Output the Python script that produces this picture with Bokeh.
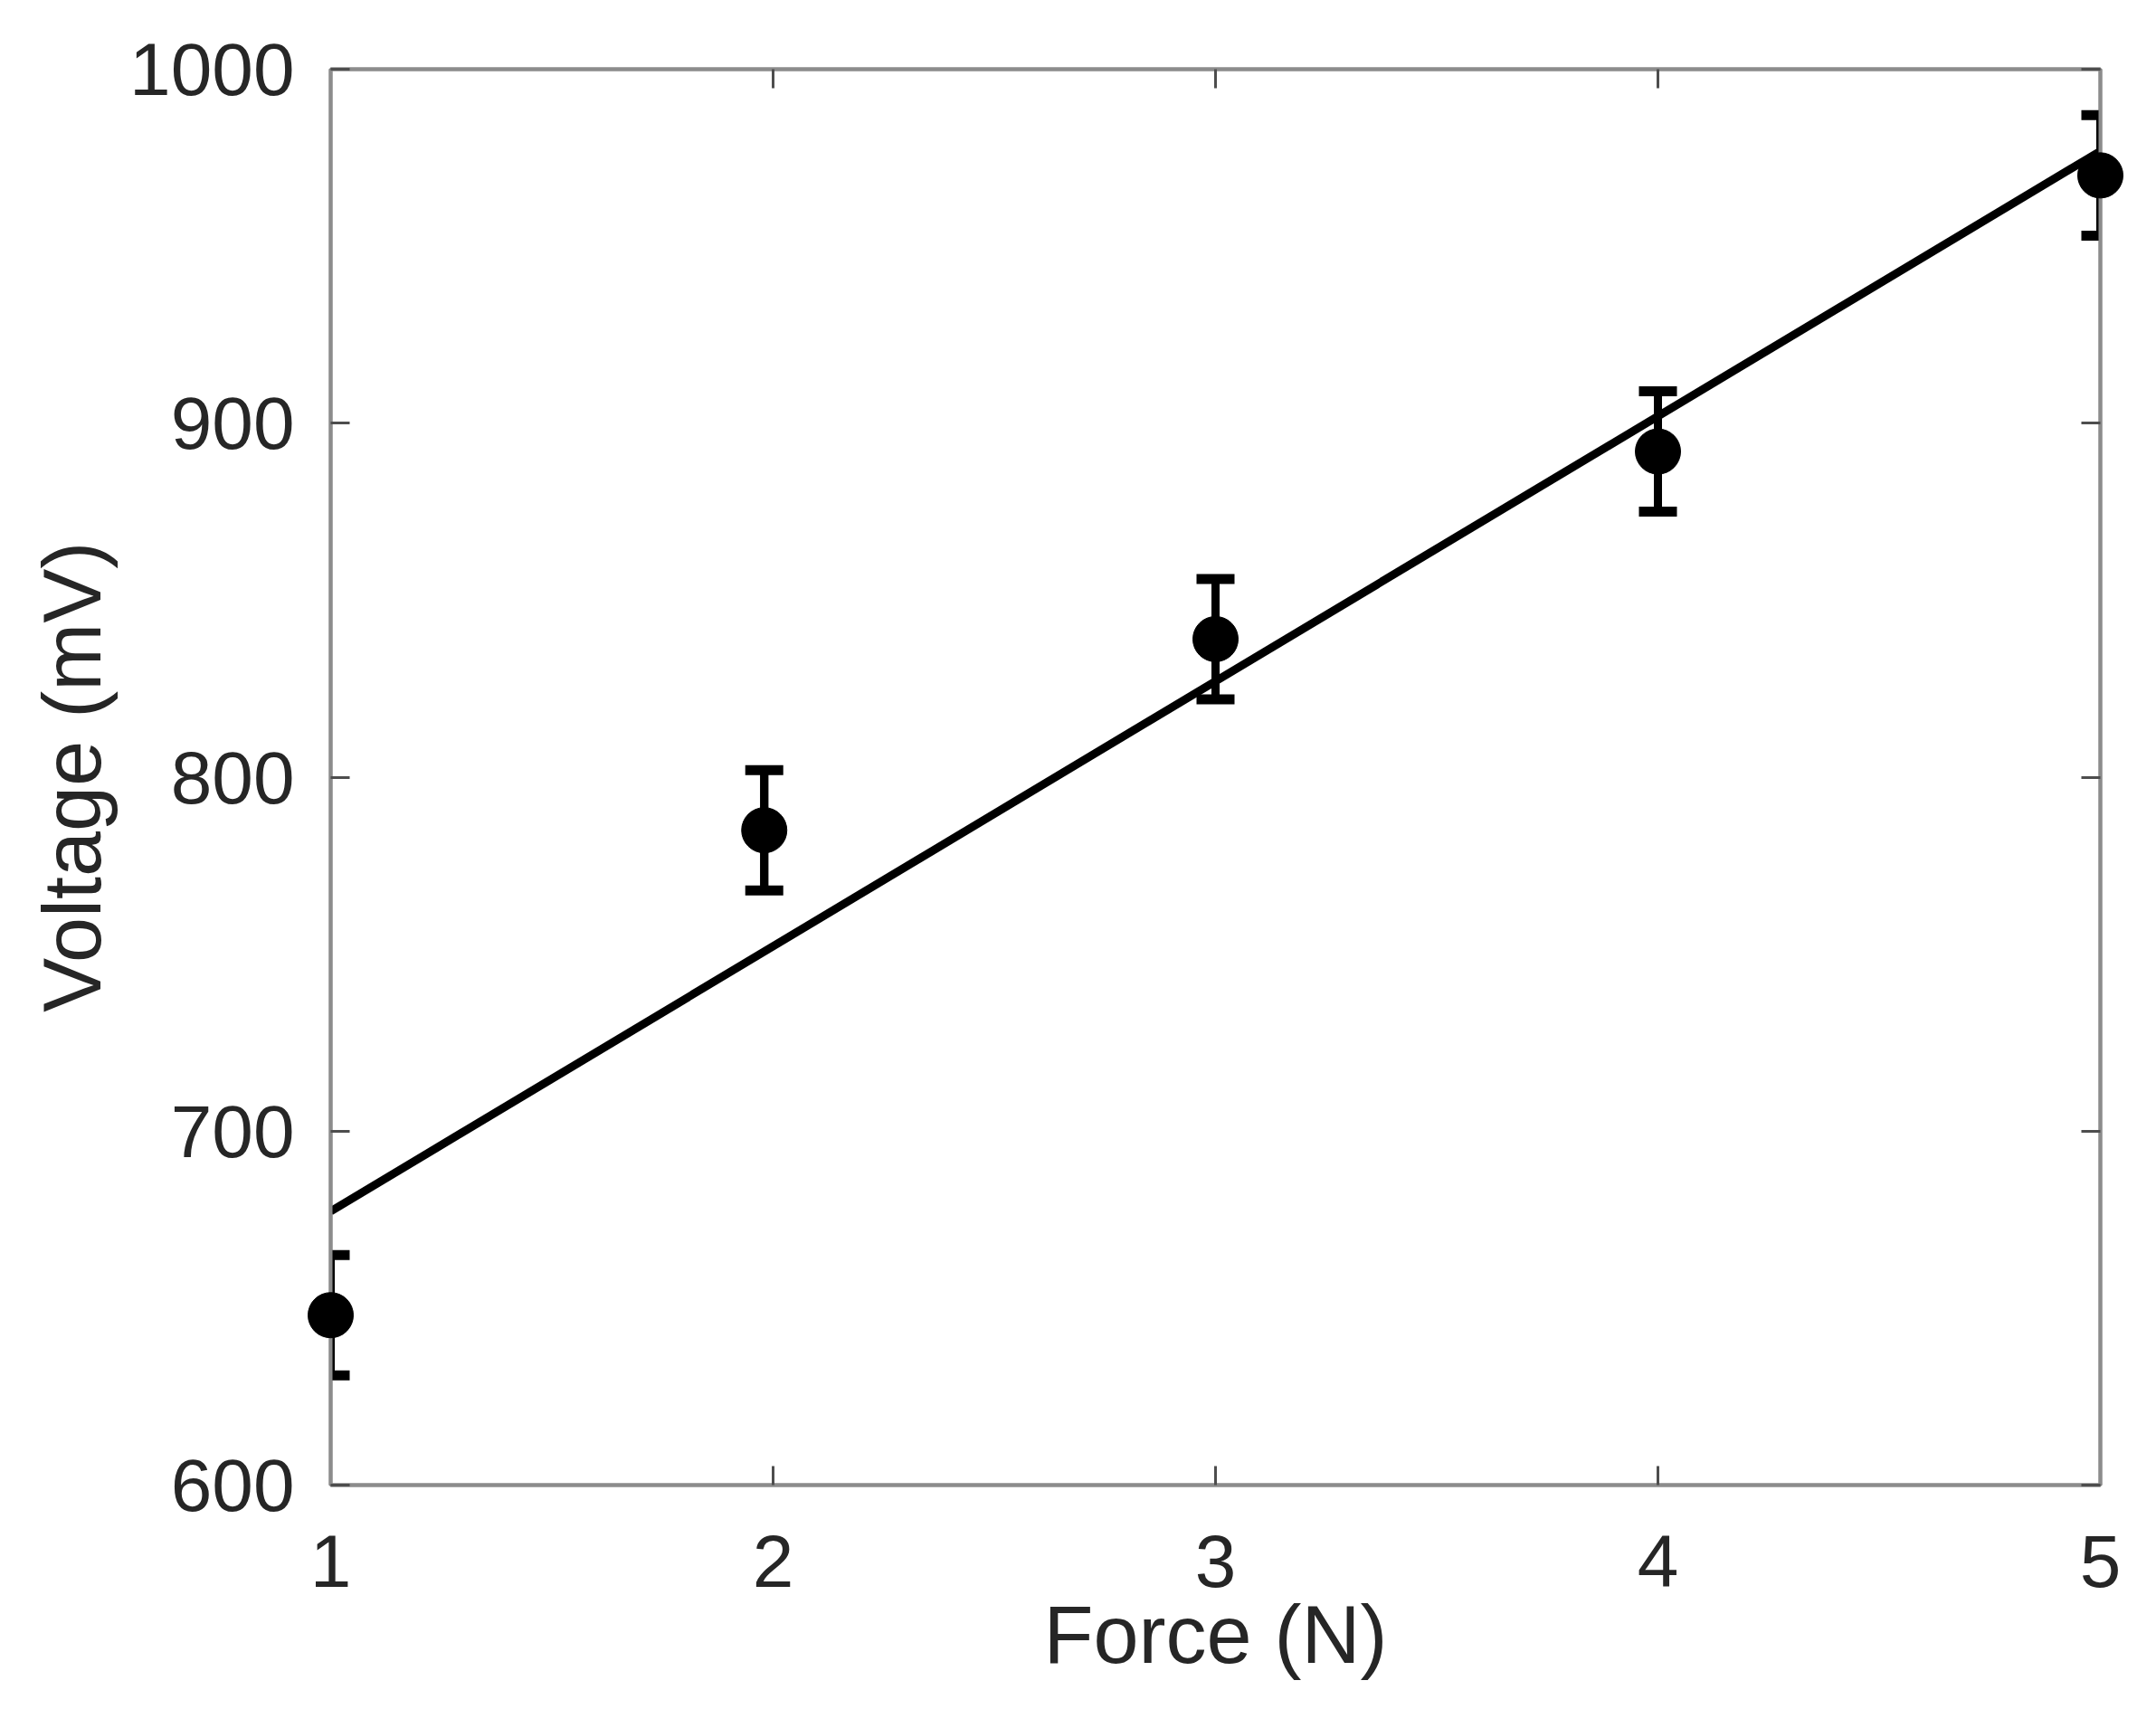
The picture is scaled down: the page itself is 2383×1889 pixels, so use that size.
import numpy as np
from bokeh.plotting import figure
from bokeh.models import Range1d, LinearAxis, FixedTicker, Whisker, TeeHead, ColumnDataSource
from bokeh.embed import file_html
from bokeh.resources import INLINE

# Data
force = [1.0, 1.98, 3.0, 4.0, 5.0]
voltage = [648, 785, 839, 892, 970]
err = [17, 17, 17, 17, 17]
x_ticks = [1, 2, 3, 4, 5]
y_ticks = [600, 700, 800, 900, 1000]

slope, intercept = np.polyfit(force, voltage, 1)
fit_x = [1.0, 5.0]
fit_y = [intercept + slope * xv for xv in fit_x]

FONT = "Liberation Sans"
TXT = "#262626"

p = figure(frame_width=1956, frame_height=1565,
           x_range=Range1d(1, 5), y_range=Range1d(600, 1000),
           output_backend="svg", toolbar_location=None,
           min_border_left=365, min_border_top=76, min_border_right=46, min_border_bottom=232)
p.xgrid.visible = False
p.ygrid.visible = False
p.outline_line_color = "#8c8c8c"
p.outline_line_width = 4
p.background_fill_color = "white"
p.border_fill_color = "white"

def style(ax, labels=True):
    ax.axis_line_color = "#8c8c8c"
    ax.axis_line_width = 4
    ax.major_tick_in = 21
    ax.major_tick_out = 0
    ax.major_tick_line_color = "#4d4d4d"
    ax.major_tick_line_width = 3
    ax.minor_tick_line_color = None
    if labels:
        ax.major_label_text_font = FONT
        ax.major_label_text_font_size = "82px"
        ax.major_label_text_color = TXT
        ax.axis_label_text_font = FONT
        ax.axis_label_text_font_size = "90px"
        ax.axis_label_text_font_style = "normal"
        ax.axis_label_text_color = TXT
    else:
        ax.major_label_text_color = None
        ax.major_label_standoff = 0

p.xaxis.ticker = FixedTicker(ticks=x_ticks)
p.yaxis.ticker = FixedTicker(ticks=y_ticks)
p.xaxis.axis_label = "Force (N)"
p.yaxis.axis_label = "Voltage (mV)"
style(p.xaxis[0])
style(p.yaxis[0])
p.xaxis.major_label_standoff = 55
p.yaxis.major_label_standoff = 40
p.xaxis.axis_label_standoff = 0
p.yaxis.axis_label_standoff = 10

ax_top = LinearAxis(ticker=FixedTicker(ticks=x_ticks))
ax_right = LinearAxis(ticker=FixedTicker(ticks=y_ticks))
style(ax_top, labels=False)
style(ax_right, labels=False)
p.add_layout(ax_top, "above")
p.add_layout(ax_right, "right")

# fit line
p.line(fit_x, fit_y, line_color="black", line_width=9)

# error bars
src = ColumnDataSource(dict(x=force, y=voltage,
                            lo=[v - e for v, e in zip(voltage, err)],
                            hi=[v + e for v, e in zip(voltage, err)]))
p.segment(x0="x", y0="lo", x1="x", y1="hi", source=src, line_color="black", line_width=9)
p.add_layout(Whisker(base="x", lower="lo", upper="hi", source=src,
                     line_color="black", line_width=9,
                     upper_head=TeeHead(size=42, line_width=11, line_color="black"),
                     lower_head=TeeHead(size=42, line_width=11, line_color="black")))

# points
p.scatter(x="x", y="y", source=src, size=50, fill_color="black", line_color="black", level="overlay")

open("out.html", "w").write(file_html(p, INLINE))
